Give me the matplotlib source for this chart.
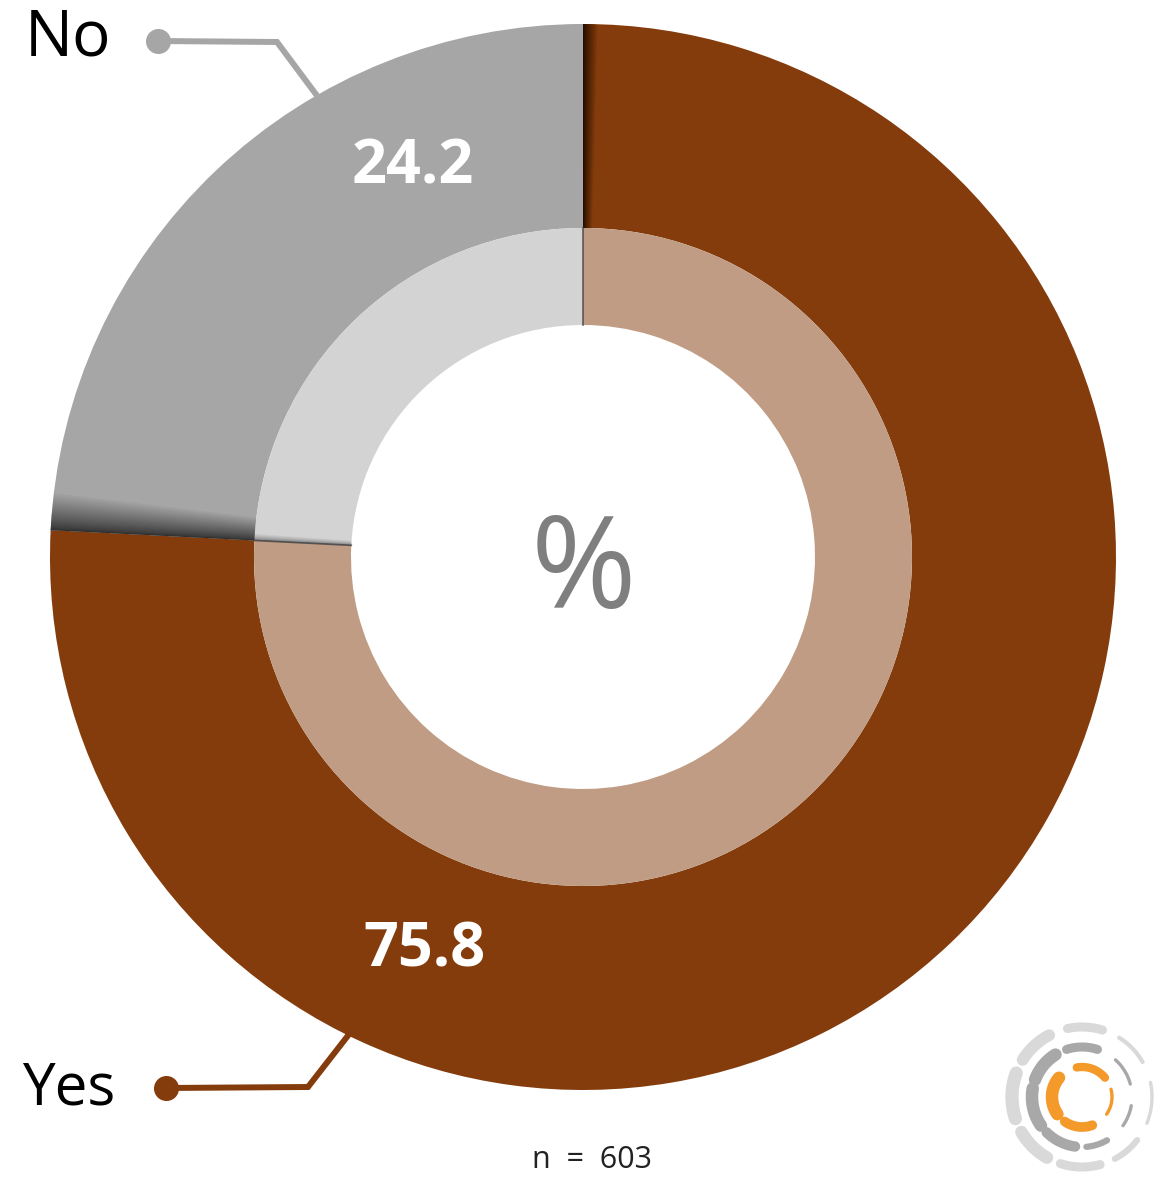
import numpy as np
import matplotlib.pyplot as plt
from matplotlib.patches import Wedge

# survey answers, percent
labels = ["Yes", "No"]
values = [75.8, 24.2]
n_resp = 603

dark_colors = ["#843c0c", "#a6a6a6"]
light_colors = ["#c09c84", "#d3d3d3"]

W, H = 1169, 1177
cx, cy = 583, 620  # ring centre (pixels, y up)
r_out, r_mid, r_in = 533, 329, 232

fig = plt.figure(figsize=(W / 100, H / 100), dpi=100)
ax = fig.add_axes([0, 0, 1, 1])

# outer ring + lighter inner ring, same split
ax.pie(values, colors=dark_colors, radius=r_out, center=(cx, cy), startangle=90,
       counterclock=False, wedgeprops=dict(width=r_out - r_mid, linewidth=0))
ax.pie(values, colors=light_colors, radius=r_mid, center=(cx, cy), startangle=90,
       counterclock=False, wedgeprops=dict(width=r_mid - r_in, linewidth=0))

# soft shadows where the slices meet
bound = 90 - 360 * values[0] / 100 + 360
n_layers = 30
for k in range(n_layers):
    f = ((k + 1) / n_layers) ** 2
    ax.add_patch(Wedge((cx, cy), r_out, 90 - 1.6 * f, 90, width=r_out - r_mid,
                       fc="black", alpha=0.045, lw=0))
    ax.add_patch(Wedge((cx, cy), r_out, bound - 4.0 * f, bound,
                       width=r_out - r_mid, fc="black", alpha=0.04, lw=0))
    ax.add_patch(Wedge((cx, cy), r_mid, bound - 1.2 * f, bound,
                       width=r_mid - r_in, fc="black", alpha=0.02, lw=0))
for ang in (90, bound):
    a = np.radians(ang)
    ax.plot([cx + r_in * np.cos(a), cx + r_mid * np.cos(a)],
            [cy + r_in * np.sin(a), cy + r_mid * np.sin(a)],
            color="#404040", lw=1.2, alpha=0.8)

# value labels
ax.text(413, 1177 - 168, f"{values[1]:.1f}", color="white", fontsize=44,
        fontweight="bold", family="Open Sans", ha="center", va="center")
ax.text(424, 1177 - 951, f"{values[0]:.1f}", color="white", fontsize=44,
        fontweight="bold", family="Open Sans", ha="center", va="center")
ax.text(cx, 1177 - 575, "%", color="#7f7f7f", fontsize=92, family="Open Sans",
        ha="center", va="center")

# category labels with leader lines
ax.text(25, 1177 - 38, labels[1], color="black", fontsize=46, family="Open Sans",
        ha="left", va="center")
ax.plot([158, 277, 318], [1136, 1135, 1080], color=dark_colors[1], lw=4.3,
        solid_joinstyle="miter")
ax.plot([158], [1136], "o", color=dark_colors[1], ms=17)

ax.text(22, 1177 - 1089, labels[0], color="black", fontsize=42, family="Open Sans",
        ha="left", va="center")
ax.plot([166, 308, 350], [89, 90, 144], color=dark_colors[0], lw=4.3,
        solid_joinstyle="miter")
ax.plot([166], [89], "o", color=dark_colors[0], ms=17)

ax.text(592, 1177 - 1160, f"n  =  {n_resp}", color="#222222", fontsize=22,
        family="Open Sans", ha="center", va="center")

# small logo: broken concentric arcs
lx, ly = 1082, 1177 - 1097
logo_arcs = [
    # radius, start, end (deg), width (pt), colour
    (30, 40, 100, 6, "#f39a2b"), (30, 140, 215, 9, "#f39a2b"),
    (30, 235, 290, 7, "#f39a2b"), (30, -35, 15, 2.4, "#f39a2b"),
    (50, 72, 108, 6.5, "#a8a8a8"), (50, 122, 160, 9, "#a8a8a8"),
    (50, 170, 215, 9, "#a8a8a8"), (50, 225, 262, 7.5, "#a8a8a8"),
    (50, 275, 300, 4.5, "#a8a8a8"), (50, 325, 350, 2.4, "#a8a8a8"),
    (50, 15, 48, 2.4, "#a8a8a8"),
    (70, 73, 102, 6.5, "#d9d9d9"), (70, 118, 148, 8.5, "#d9d9d9"),
    (70, 160, 198, 9.5, "#d9d9d9"), (70, 210, 240, 9, "#d9d9d9"),
    (70, 252, 285, 6.5, "#d9d9d9"), (70, 298, 322, 4.5, "#d9d9d9"),
    (70, 338, 372, 2.4, "#d9d9d9"), (70, 30, 58, 3, "#d9d9d9"),
]
for r, a0, a1, lw, col in logo_arcs:
    t = np.radians(np.linspace(a0, a1, 40))
    ax.plot(lx + r * np.cos(t), ly + r * np.sin(t), color=col, lw=lw,
            solid_capstyle="round")

ax.set_xlim(0, W)
ax.set_ylim(0, H)
ax.set_aspect("auto")
ax.axis("off")

fig.savefig("out.png", dpi=100)
plt.close(fig)
